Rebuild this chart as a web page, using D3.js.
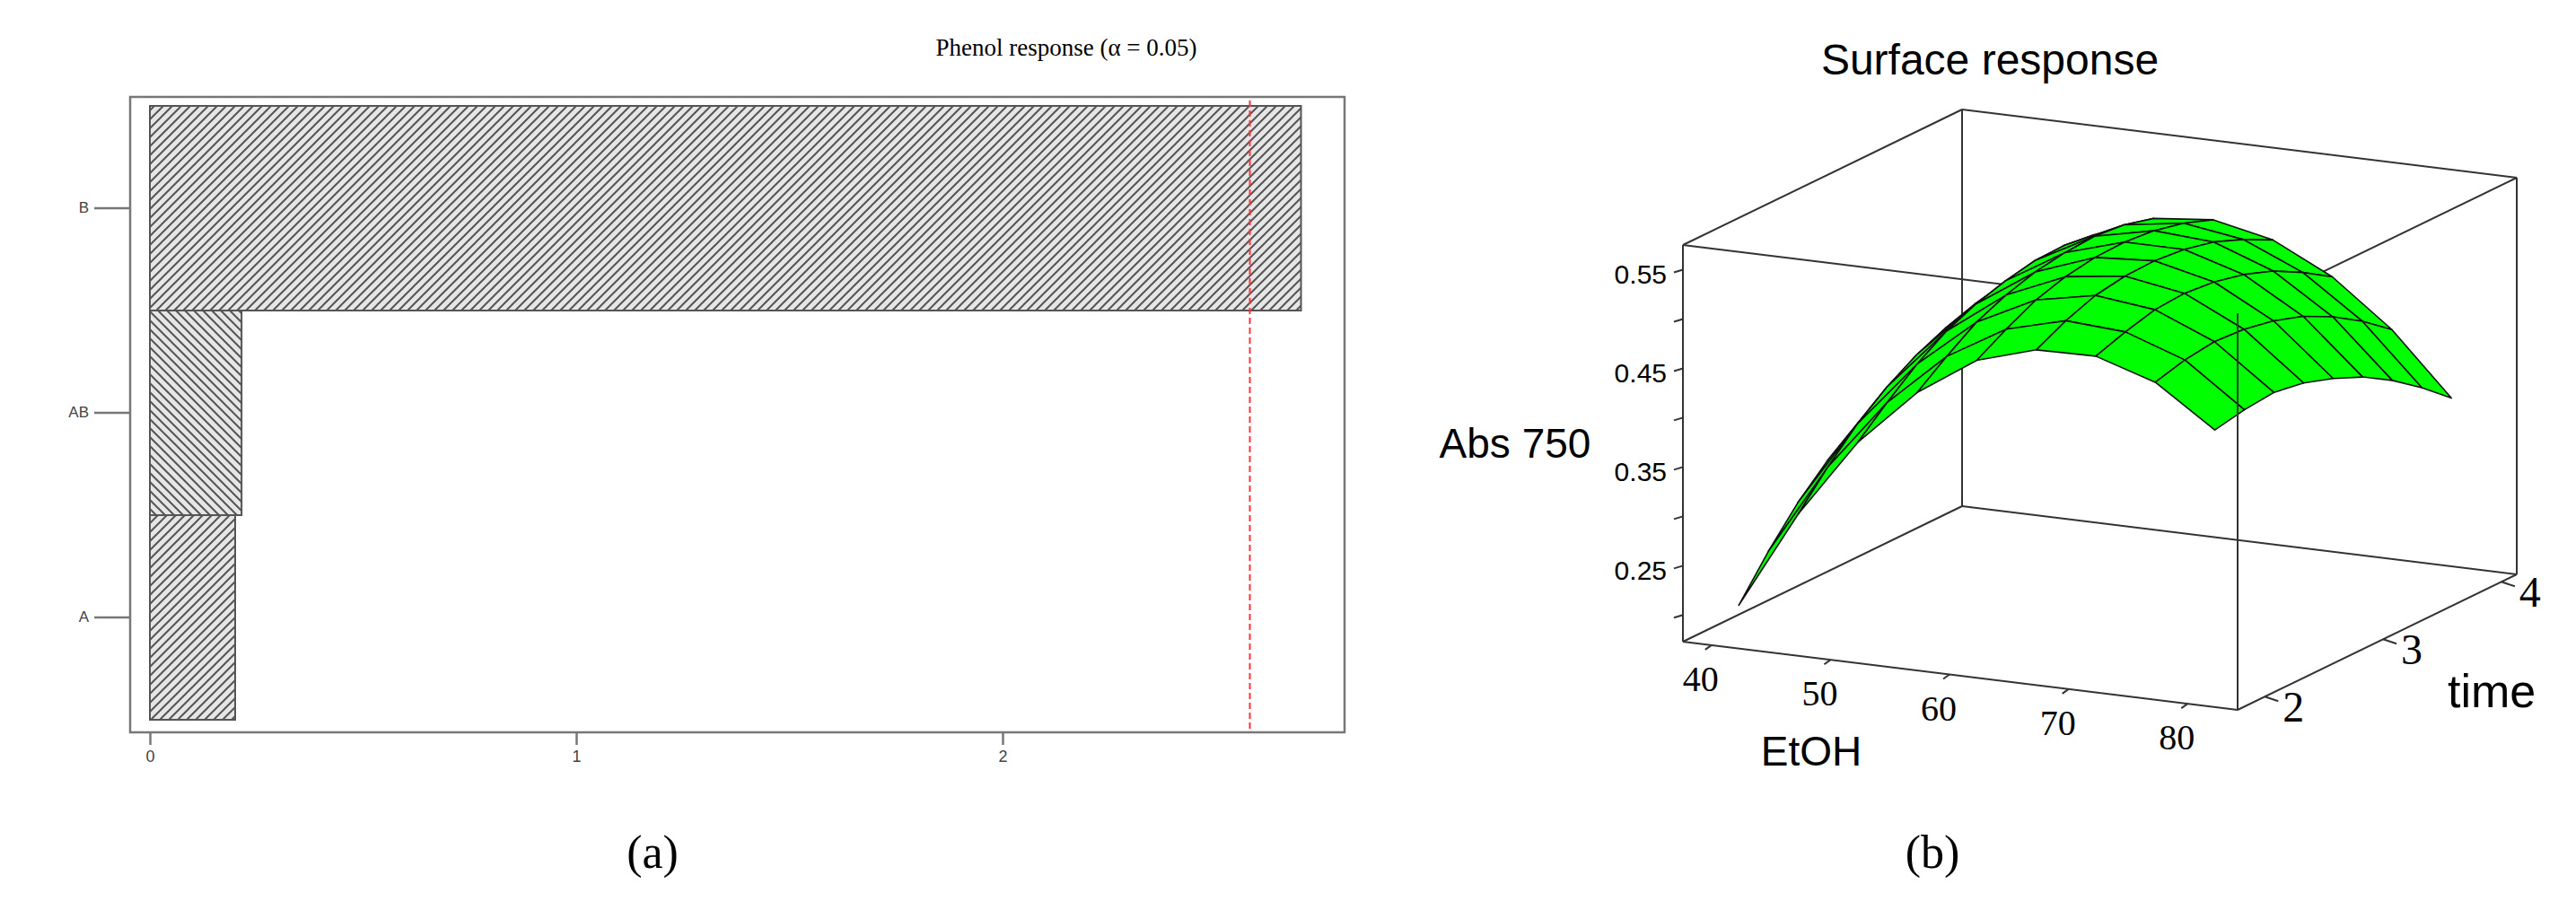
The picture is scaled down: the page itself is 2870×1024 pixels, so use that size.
<!DOCTYPE html>
<html><head><meta charset="utf-8">
<script src="https://cdn.jsdelivr.net/npm/d3@7"></script>
<style>body{margin:0;background:#fff}</style>
</head><body>
<svg id="chart" width="2870" height="1024"></svg>
<script>
"use strict";

// panel (a): Pareto of standardized effects
const effects = ["B", "AB", "A"];
const effectValues = [2.70, 0.215, 0.20];
const critValue = 2.58;
const effectTicks = [0, 1, 2];

// panel (b): response surface grid (rows = time, cols = EtOH)
const etohValues = [40, 45, 50, 55, 60, 65, 70, 75, 80];
const timeValues = [2, 2.25, 2.5, 2.75, 3, 3.25, 3.5, 3.75, 4];
const absValues = [
  [0.200, 0.300, 0.380, 0.438, 0.478, 0.496, 0.497, 0.478, 0.437],
  [0.240, 0.333, 0.406, 0.460, 0.495, 0.511, 0.507, 0.486, 0.443],
  [0.275, 0.362, 0.430, 0.480, 0.510, 0.522, 0.515, 0.490, 0.446],
  [0.303, 0.385, 0.449, 0.493, 0.519, 0.527, 0.517, 0.488, 0.441],
  [0.325, 0.403, 0.462, 0.502, 0.524, 0.528, 0.514, 0.482, 0.431],
  [0.343, 0.416, 0.471, 0.507, 0.525, 0.525, 0.507, 0.472, 0.418],
  [0.357, 0.426, 0.477, 0.509, 0.522, 0.518, 0.496, 0.457, 0.400],
  [0.366, 0.431, 0.478, 0.506, 0.515, 0.506, 0.480, 0.438, 0.378],
  [0.371, 0.432, 0.474, 0.498, 0.504, 0.491, 0.461, 0.415, 0.353]
];
const absTicks = [0.25, 0.35, 0.45, 0.55];
const absMinorTicks = [0.20, 0.30, 0.40, 0.50];
const etohTicks = [40, 50, 60, 70, 80];
const timeTicks = [2, 3, 4];

const svg = d3.select("#chart");
const defs = svg.append("defs");

function hatch(id, dir) {
    const p = defs.append("pattern")
        .attr("id", id).attr("patternUnits", "userSpaceOnUse")
        .attr("width", 10).attr("height", 10);
    p.append("rect").attr("width", 10).attr("height", 10).attr("fill", "#e6e6e6");
    const d = dir > 0 ? "M-2,2 l4,-4 M0,10 l10,-10 M8,12 l4,-4"
                      : "M-2,8 l4,4 M0,0 l10,10 M8,-2 l4,4";
    p.append("path").attr("d", d).attr("stroke", "#555").attr("stroke-width", 2);
}
hatch("h1", 1);
hatch("h2", -1);

// ---------- panel (a)
const x = d3.scaleLinear().domain([0, 2.8]).range([167, 1497]);
const y = d3.scaleBand().domain(effects).range([118, 802]);

svg.append("rect")
    .attr("x", 145).attr("y", 108).attr("width", 1353).attr("height", 708)
    .attr("fill", "none").attr("stroke", "#777").attr("stroke-width", 2.5);

svg.selectAll(".bar")
    .data(effects)
    .enter().append("rect")
    .attr("class", "bar")
    .attr("x", x(0))
    .attr("y", d => y(d))
    .attr("width", (d, i) => x(effectValues[i]) - x(0))
    .attr("height", y.bandwidth())
    .attr("fill", d => d === "AB" ? "url(#h2)" : "url(#h1)")
    .attr("stroke", "#555").attr("stroke-width", 2);

svg.append("line")
    .attr("x1", x(critValue)).attr("x2", x(critValue))
    .attr("y1", 112).attr("y2", 812)
    .attr("stroke", "#f33").attr("stroke-width", 2).attr("stroke-dasharray", "7,4");

svg.append("g")
    .attr("transform", "translate(145,0)")
    .call(d3.axisLeft(y).tickSize(40).tickPadding(6))
    .call(g => g.select(".domain").remove())
    .call(g => g.selectAll("line").attr("stroke", "#777").attr("stroke-width", 2.5))
    .call(g => g.selectAll("text").attr("font-family", "Arial, Liberation Sans")
        .attr("font-size", 17).attr("fill", "#444"));

svg.append("g")
    .attr("transform", "translate(0,816)")
    .call(d3.axisBottom(x).tickValues(effectTicks).tickFormat(d3.format("d"))
        .tickSize(14).tickPadding(6))
    .call(g => g.select(".domain").remove())
    .call(g => g.selectAll("line").attr("stroke", "#777").attr("stroke-width", 2.5))
    .call(g => g.selectAll("text").attr("font-family", "Arial, Liberation Sans")
        .attr("font-size", 18).attr("fill", "#444"));

svg.append("text").attr("x", 1188).attr("y", 62).attr("text-anchor", "middle")
    .attr("font-family", "Liberation Serif, Times New Roman").attr("font-size", 27)
    .text("Phenol response (α = 0.05)");
svg.append("text").attr("x", 727).attr("y", 967).attr("text-anchor", "middle")
    .attr("font-family", "Liberation Serif, Times New Roman").attr("font-size", 52)
    .text("(a)");
svg.append("text").attr("x", 2153).attr("y", 967).attr("text-anchor", "middle")
    .attr("font-family", "Liberation Serif, Times New Roman").attr("font-size", 52)
    .text("(b)");

// ---------- panel (b): parallel projection
const uS = d3.scaleLinear().domain([37.6, 84.2]).range([0, 1]);
const vS = d3.scaleLinear().domain([1.77, 4.13]).range([0, 1]);
const zS = d3.scaleLinear().domain([0.173, 0.575]).range([0, 442]);
const O = [1875, 715];
function proj(e, t, z) {
    const u = uS(e), v = vS(t), h = zS(z);
    return [O[0] + 618 * u + 311 * v, O[1] + 76 * u - 151 * v - h];
}
const E0 = uS.domain()[0], E1 = uS.domain()[1];
const T0 = vS.domain()[0], T1 = vS.domain()[1];
const Z0 = zS.domain()[0], Z1 = zS.domain()[1];
const line = d3.line();
const box = svg.append("g").attr("stroke", "#333").attr("stroke-width", 2).attr("fill", "none");
const edges = [
    [[E0,T0,Z0],[E1,T0,Z0]], [[E0,T1,Z0],[E1,T1,Z0]], [[E0,T0,Z1],[E1,T0,Z1]], [[E0,T1,Z1],[E1,T1,Z1]],
    [[E0,T0,Z0],[E0,T1,Z0]], [[E1,T0,Z0],[E1,T1,Z0]], [[E0,T0,Z1],[E0,T1,Z1]], [[E1,T0,Z1],[E1,T1,Z1]],
    [[E0,T0,Z0],[E0,T0,Z1]], [[E1,T0,Z0],[E1,T0,Z1]], [[E0,T1,Z0],[E0,T1,Z1]], [[E1,T1,Z0],[E1,T1,Z1]]
];
edges.forEach(ed => box.append("path").attr("d", line(ed.map(p => proj(...p)))));

// surface cells, painted back to front
const cells = [];
for (let i = 0; i < timeValues.length - 1; i++) {
    for (let j = 0; j < etohValues.length - 1; j++) {
        const pts = [[i, j], [i, j + 1], [i + 1, j + 1], [i + 1, j]]
            .map(([a, b]) => proj(etohValues[b], timeValues[a], absValues[a][b]));
        cells.push({pts, depth: vS(timeValues[i]) - uS(etohValues[j])});
    }
}
cells.sort((a, b) => b.depth - a.depth);
svg.append("g").selectAll("path").data(cells).enter().append("path")
    .attr("d", d => line(d.pts) + "Z")
    .attr("fill", "#0f0").attr("stroke", "#111").attr("stroke-width", 1.6)
    .attr("stroke-linejoin", "round");

// front box edges over the surface
[[[E1,T0,Z0],[E1,T0,Z1]]].forEach(ed =>
    box.clone(false).raise().append("path").attr("d", line(ed.map(p => proj(...p)))));

const ax = svg.append("g").attr("font-family", "Arial, Liberation Sans");
absTicks.concat(absMinorTicks).forEach(v => {
    const p = proj(E0, T0, v);
    ax.append("line").attr("x1", p[0]).attr("y1", p[1]).attr("x2", p[0] - 10).attr("y2", p[1] + 3)
        .attr("stroke", "#333").attr("stroke-width", 2);
});
absTicks.forEach(v => {
    const p = proj(E0, T0, v);
    ax.append("text").attr("x", p[0] - 18).attr("y", p[1] + 16).attr("text-anchor", "end")
        .attr("font-size", 30).text(d3.format(".2f")(v));
});
ax.append("text").attr("x", 1688).attr("y", 510).attr("text-anchor", "middle")
    .attr("font-size", 46).text("Abs 750");

etohTicks.forEach(v => {
    const p = proj(v, T0, Z0);
    ax.append("line").attr("x1", p[0]).attr("y1", p[1]).attr("x2", p[0] - 7).attr("y2", p[1] + 5)
        .attr("stroke", "#333").attr("stroke-width", 2);
    ax.append("text").attr("x", p[0] - 12).attr("y", p[1] + 51).attr("text-anchor", "middle")
        .attr("font-family", "Liberation Serif, Times New Roman").attr("font-size", 40).text(v);
});
ax.append("text").attr("x", 2018).attr("y", 853).attr("text-anchor", "middle")
    .attr("font-size", 46).text("EtOH");

timeTicks.forEach(v => {
    const p = proj(E1, v, Z0);
    ax.append("line").attr("x1", p[0]).attr("y1", p[1]).attr("x2", p[0] + 15).attr("y2", p[1] + 5)
        .attr("stroke", "#333").attr("stroke-width", 2);
    ax.append("text").attr("x", p[0] + 32).attr("y", p[1] + 28).attr("text-anchor", "middle")
        .attr("font-family", "Liberation Serif, Times New Roman").attr("font-size", 48).text(v);
});
ax.append("text").attr("x", 2727).attr("y", 788)
    .attr("font-size", 52).text("time");

ax.append("text").attr("x", 2217).attr("y", 83).attr("text-anchor", "middle")
    .attr("font-size", 48).text("Surface response");
</script>
</body></html>
